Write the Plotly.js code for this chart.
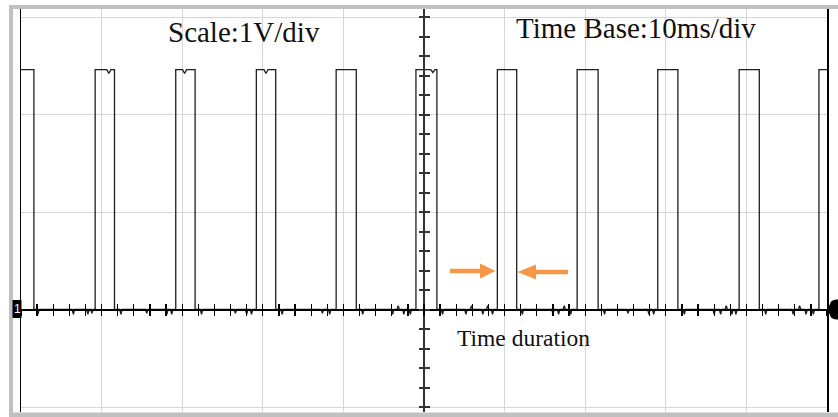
<!DOCTYPE html>
<html>
<head>
<meta charset="utf-8">
<script src="https://cdn.plot.ly/plotly-3.0.1.min.js"></script>
<style>html,body{margin:0;padding:0;background:#fff;}#chart{width:838px;height:417px;}</style>
</head>
<body>
<div id="chart"></div>
<script>
// ---- data (time in ms, voltage in V) ----
const pulseStartMs = [-50, -40.8, -30.8, -20.8, -10.9, -1.0, 9.1, 19.0, 29.0, 39.1, 49.0];
const pulseEndMs   = [-48.4, -38.4, -28.4, -18.4, -8.4, 1.6, 11.5, 21.6, 31.5, 41.6, 50];
const highLevelV = 2.46;
const lowLevelV = 0;
const notchMs = [-39.1, -29.7, -19.6, 1.1];
const notchV  = [2.42, 2.42, 2.42, 2.43];
const glitchMs = [-47.9, -43.5, -41.7, -41.2, -37.6, -34.4, -31.9, -31.3, -27.6, -23.4, -22.0, -21.4,
  -17.6, -12.6, -11.7, -7.6, -3.9, -3.2, -2.5, -1.7, 2.3, 5.2, 5.9, 7.3, 7.9, 8.5, 12.2, 16.0, 16.7,
  17.4, 18.2, 22.4, 25.3, 27.9, 28.5, 32.3, 36.0, 36.8, 37.5, 38.2, 38.7, 42.4, 45.8, 46.6, 47.4, 48.3];
const glitchV = [-0.05, -0.05, -0.05, -0.04, -0.05, -0.04, -0.05, -0.05, -0.05, -0.04, -0.05, -0.05,
  -0.05, -0.04, -0.05, -0.05, -0.05, 0.04, -0.05, -0.05, -0.05, -0.05, 0.04, -0.05, 0.04, -0.05, -0.05, -0.05, -0.05,
  0.04, -0.05, -0.05, -0.04, -0.05, -0.05, -0.05, -0.05, -0.05, 0.04, -0.05, -0.05, -0.05, -0.05, 0.04, -0.05, -0.05];
const timeRangeMs = [-50, 50];
const voltRange = [-1.051, 3.082];
const textScale = "Scale:1V/div";
const textTimeBase = "Time Base:10ms/div";
const textDuration = "Time duration";
const channelLabel = "1";

// ---- build the trace polyline from the edges ----
const T = [], V = [];
function add(t, v) { T.push(t); V.push(v); }
const hw = 0.15;
for (let i = 0; i < pulseStartMs.length; i++) {
  const s = pulseStartMs[i], e = pulseEndMs[i];
  if (s > timeRangeMs[0]) add(s, lowLevelV);
  add(s, highLevelV);
  notchMs.forEach((n, k) => { if (n > s && n < e) { add(n - 0.25, highLevelV); add(n, notchV[k]); add(n + 0.25, highLevelV); } });
  add(e, highLevelV);
  if (e < timeRangeMs[1]) {
    add(e, lowLevelV);
    const next = i + 1 < pulseStartMs.length ? pulseStartMs[i + 1] : timeRangeMs[1];
    glitchMs.forEach((g, k) => { if (g > e && g < next) { add(g - hw, lowLevelV); add(g, glitchV[k]); add(g + hw, lowLevelV); } });
  }
}

// ---- pixel helpers for decorations ----
const PL = 21, PR = 827, PT = 9, PB = 412;
const fx = px => (px - PL) / (PR - PL);
const fy = py => (PB - py) / (PB - PT);
function path(pts) { return 'M' + pts.map(p => fx(p[0]).toFixed(5) + ',' + fy(p[1]).toFixed(5)).join(' L') + ' Z'; }

const orange = '#F79646';
const gray = '#c0c0c0';
const shapes = [
  {type: 'rect', xref: 'paper', yref: 'paper', x0: fx(9), x1: fx(838), y0: fy(9), y1: fy(5), fillcolor: gray, line: {width: 0}},
  {type: 'rect', xref: 'paper', yref: 'paper', x0: fx(9), x1: fx(13), y0: fy(417), y1: fy(5), fillcolor: gray, line: {width: 0}},
  {type: 'rect', xref: 'paper', yref: 'paper', x0: fx(9), x1: fx(838), y0: fy(417), y1: fy(412.5), fillcolor: gray, line: {width: 0}},
  {type: 'rect', xref: 'paper', yref: 'paper', x0: fx(12.5), x1: fx(21.5), y0: fy(318), y1: fy(300), fillcolor: '#000', line: {width: 0}},
  {type: 'path', xref: 'paper', yref: 'paper', path: 'M' + fx(827.5) + ',' + fy(309.5) + ' L' + fx(831) + ',' + fy(301.5) +
    ' Q' + fx(834) + ',' + fy(299) + ' ' + fx(838) + ',' + fy(299.5) + ' L' + fx(838) + ',' + fy(319.5) +
    ' Q' + fx(834) + ',' + fy(320) + ' ' + fx(831) + ',' + fy(317.5) + ' Z', fillcolor: '#000', line: {width: 0}},
  {type: 'path', xref: 'paper', yref: 'paper', path: path([[450,268.7],[480,268.7],[480,263.5],[495.5,271],[480,278.5],[480,273.3],[450,273.3]]), fillcolor: orange, line: {width: 0}, layer: 'above'},
  {type: 'path', xref: 'paper', yref: 'paper', path: path([[568,269.8],[536,269.8],[536,264.5],[517.5,272],[536,279.5],[536,274.2],[568,274.2]]), fillcolor: orange, line: {width: 0}, layer: 'above'}
];

const serif = 'Liberation Serif, Times New Roman, serif';
const annotations = [
  {xref: 'paper', yref: 'paper', x: fx(166), y: fy(32), xanchor: 'left', yanchor: 'middle', text: textScale, showarrow: false, font: {family: serif, size: 29, color: '#111'}},
  {xref: 'paper', yref: 'paper', x: fx(514), y: fy(28), xanchor: 'left', yanchor: 'middle', text: textTimeBase, showarrow: false, font: {family: serif, size: 29, color: '#111'}},
  {xref: 'paper', yref: 'paper', x: fx(455), y: fy(338), xanchor: 'left', yanchor: 'middle', text: textDuration, showarrow: false, font: {family: serif, size: 23.5, color: '#111'}},
  {xref: 'paper', yref: 'paper', x: fx(17), y: fy(309), xanchor: 'center', yanchor: 'middle', text: channelLabel, showarrow: false, borderpad: 0, font: {family: 'Liberation Sans, Arial', size: 12, color: '#fff'}}
];

const xPos = (0 - voltRange[0]) / (voltRange[1] - voltRange[0]);
const yPos = (0 - timeRangeMs[0]) / (timeRangeMs[1] - timeRangeMs[0]);
const centerX = (ticks) => ({overlaying: 'x', anchor: 'free', position: xPos, range: timeRangeMs, showgrid: false, zeroline: false,
  showline: true, linecolor: '#000', linewidth: 2, ticks: ticks, ticklen: 5, tickwidth: 1.3, tickcolor: '#000', tick0: 0, dtick: 2, showticklabels: false});
const centerY = (ticks) => ({overlaying: 'y', anchor: 'free', position: yPos, range: voltRange, showgrid: false, zeroline: false,
  showline: true, linecolor: '#333', linewidth: 2, ticks: ticks, ticklen: 4.5, tickwidth: 2, tickcolor: '#333', tick0: 0, dtick: 0.2, showticklabels: false});

const traces = [
  {x: T, y: V, type: 'scatter', mode: 'lines', line: {color: '#1e1e1e', width: 1.3}, hoverinfo: 'skip', showlegend: false},
  {x: [0], y: [0], xaxis: 'x2', yaxis: 'y', mode: 'markers', marker: {opacity: 0}, hoverinfo: 'skip', showlegend: false},
  {x: [0], y: [0], xaxis: 'x3', yaxis: 'y', mode: 'markers', marker: {opacity: 0}, hoverinfo: 'skip', showlegend: false},
  {x: [0], y: [0], xaxis: 'x', yaxis: 'y2', mode: 'markers', marker: {opacity: 0}, hoverinfo: 'skip', showlegend: false},
  {x: [0], y: [0], xaxis: 'x', yaxis: 'y3', mode: 'markers', marker: {opacity: 0}, hoverinfo: 'skip', showlegend: false}
];

const layout = {
  width: 838, height: 417,
  margin: {l: PL, r: 838 - PR, t: PT, b: 417 - PB, pad: 0},
  paper_bgcolor: '#fff', plot_bgcolor: '#fff',
  showlegend: false,
  xaxis: {range: timeRangeMs, dtick: 10, tick0: 0, showgrid: true, gridcolor: '#d6d6d6', gridwidth: 1, zeroline: false, showline: false, showticklabels: false, ticks: ''},
  yaxis: {range: voltRange, dtick: 1, tick0: 0, showgrid: true, gridcolor: '#d6d6d6', gridwidth: 1, zeroline: false, showline: true, mirror: true, linecolor: '#000', linewidth: 1.5, showticklabels: false, ticks: ''},
  xaxis2: centerX('outside'),
  xaxis3: centerX('inside'),
  yaxis2: centerY('outside'),
  yaxis3: centerY('inside'),
  shapes: shapes,
  annotations: annotations
};

Plotly.newPlot('chart', traces, layout, {staticPlot: true, displayModeBar: false});
</script>
</body>
</html>
